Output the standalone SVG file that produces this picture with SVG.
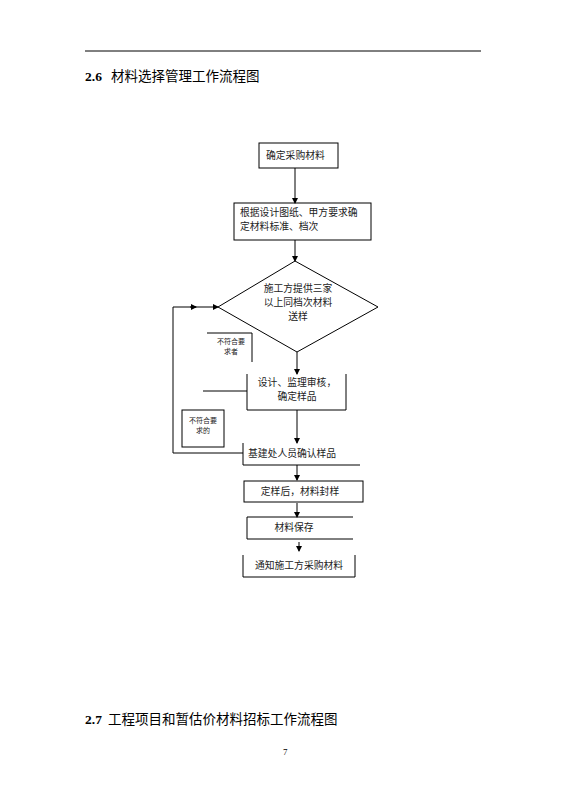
<svg xmlns="http://www.w3.org/2000/svg" width="565" height="799" viewBox="0 0 565 799">
<defs>
<marker id="ah" markerWidth="6" markerHeight="6" refX="5" refY="3" orient="auto" markerUnits="userSpaceOnUse">
<path d="M0,0 L6,3 L0,6 Z" fill="#000"/>
</marker>
<style>
.ln{stroke:#000;stroke-width:1;fill:none}
.t{font-family:"Noto Sans CJK SC","Liberation Serif",serif;font-size:9.8px;fill:#222}
.ts{font-family:"Noto Sans CJK SC","Liberation Serif",serif;font-size:7px;fill:#222}
.h{font-family:"Liberation Serif","Noto Sans CJK SC",serif;fill:#000}
</style>
</defs>
<rect width="565" height="799" fill="#fff"/>
<line x1="85" y1="51" x2="481" y2="51" stroke="#000" stroke-width="1"/>
<text class="h" x="85" y="81" font-size="13.5"><tspan font-weight="bold">2.6</tspan><tspan x="111" font-family="Noto Sans CJK SC,sans-serif">材料选择管理工作流程图</tspan></text>

<g id="connectors">
<line class="ln" x1="295" y1="168" x2="295" y2="203" marker-end="url(#ah)"/>
<line class="ln" x1="295" y1="240" x2="295" y2="261" marker-end="url(#ah)"/>
<line class="ln" x1="297" y1="352" x2="297" y2="374" marker-end="url(#ah)"/>
<line class="ln" x1="297" y1="410" x2="297" y2="443" marker-end="url(#ah)"/>
<line class="ln" x1="297" y1="465" x2="297" y2="480" marker-end="url(#ah)"/>
<line class="ln" x1="297" y1="503" x2="297" y2="517" marker-end="url(#ah)"/>
<line class="ln" x1="299" y1="542" x2="299" y2="551" marker-end="url(#ah)"/>
<polyline class="ln" points="243,453 173,453 173,307 196,307"/>
<line class="ln" x1="190" y1="307" x2="196" y2="307" marker-end="url(#ah)"/>
<line class="ln" x1="196" y1="307" x2="218" y2="307" marker-end="url(#ah)"/>
<line class="ln" x1="203" y1="391" x2="247" y2="391"/>
</g>

<g id="n1">
<rect class="ln" x="259" y="143" width="79" height="25"/>
<text class="t" x="266" y="159">确定采购材料</text>
</g>
<g id="n2">
<rect class="ln" x="234" y="203" width="137" height="37"/>
<text class="t" x="240" y="216">根据设计图纸、甲方要求确</text>
<text class="t" x="240" y="230">定材料标准、档次</text>
</g>
<g id="n3">
<polygon class="ln" points="295,261 378,307 297,352 218,307"/>
<text class="t" x="298" y="292" text-anchor="middle">施工方提供三家</text>
<text class="t" x="298" y="306" text-anchor="middle">以上同档次材料</text>
<text class="t" x="298" y="320" text-anchor="middle">送样</text>
</g>
<g id="n4">
<polyline class="ln" points="207,333 252,333 252,362"/>
<text class="ts" x="231" y="344" text-anchor="middle">不符合要</text>
<text class="ts" x="231" y="354" text-anchor="middle">求者</text>
</g>
<g id="n5">
<polyline class="ln" points="247,374 247,410 346,410 346,374"/>
<text class="t" x="297" y="386" text-anchor="middle">设计、监理审核，</text>
<text class="t" x="297" y="400" text-anchor="middle">确定样品</text>
</g>
<g id="n6">
<rect class="ln" x="182" y="410" width="42" height="37"/>
<text class="ts" x="203" y="423" text-anchor="middle">不符合要</text>
<text class="ts" x="203" y="433" text-anchor="middle">求的</text>
</g>
<g id="n7">
<polyline class="ln" points="243,443 243,465 360,465"/>
<text class="t" x="248" y="457">基建处人员确认样品</text>
</g>
<g id="n8">
<rect class="ln" x="244" y="481" width="119" height="21"/>
<text class="t" x="300" y="495" text-anchor="middle">定样后，材料封样</text>
</g>
<g id="n9">
<polyline class="ln" points="353,517 247,517 247,539 353,539"/>
<text class="t" x="294" y="531" text-anchor="middle">材料保存</text>
</g>
<g id="n10">
<polyline class="ln" points="243,555 243,577 355,577 355,555"/>
<text class="t" x="299" y="569" text-anchor="middle">通知施工方采购材料</text>
</g>

<text class="h" x="85" y="724" font-size="13.5"><tspan font-weight="bold">2.7</tspan><tspan x="108" font-family="Noto Sans CJK SC,sans-serif">工程项目和暂估价材料招标工作流程图</tspan></text>
<text class="h" x="283" y="755" font-size="9">7</text>
</svg>
